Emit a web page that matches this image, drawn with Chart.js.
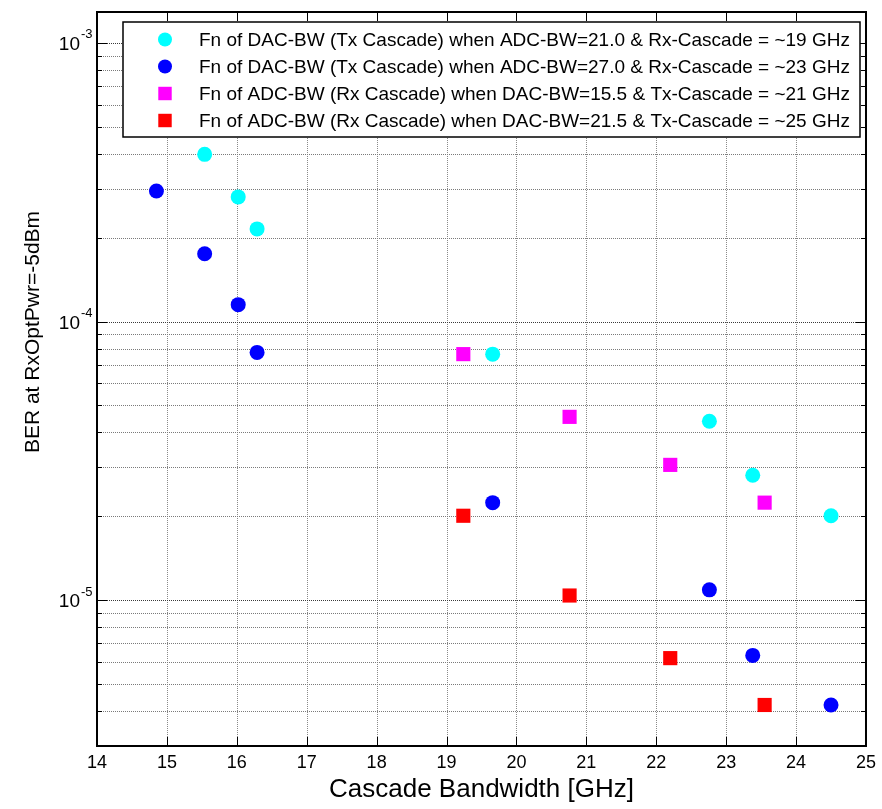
<!DOCTYPE html>
<html>
<head>
<meta charset="utf-8">
<title>BER vs cascade bandwidth</title>
<script src="https://cdn.jsdelivr.net/npm/chart.js@4.4.1/dist/chart.umd.min.js"></script>
<style>
  html, body { margin: 0; padding: 0; background: #fff; }
  #wrap { position: relative; width: 882px; height: 809px; }
</style>
</head>
<body>
<div id="wrap"><canvas id="berChart" width="882" height="809"></canvas></div>
<script>
const FONT = '"Liberation Sans", Arial, Helvetica, sans-serif';

// cascade bandwidth [GHz] and BER
const dacSweepAdc21X = [15.54, 16.02, 16.29, 19.66, 22.76, 23.38, 24.50];
const dacSweepAdc21Y = [3.98e-4, 2.80e-4, 2.15e-4, 7.64e-5, 4.39e-5, 2.81e-5, 2.01e-5];
const dacSweepAdc27X = [14.85, 15.54, 16.02, 16.29, 19.66, 22.76, 23.38, 24.50];
const dacSweepAdc27Y = [2.94e-4, 1.75e-4, 1.15e-4, 7.75e-5, 2.24e-5, 1.09e-5, 6.34e-6, 4.21e-6];
const adcSweepDac155X = [19.24, 20.76, 22.20, 23.55];
const adcSweepDac155Y = [7.64e-5, 4.55e-5, 3.06e-5, 2.24e-5];
const adcSweepDac215X = [19.24, 20.76, 22.20, 23.55];
const adcSweepDac215Y = [2.01e-5, 1.04e-5, 6.20e-6, 4.21e-6];

const seriesLabels = [
  "Fn of DAC-BW (Tx Cascade) when ADC-BW=21.0 & Rx-Cascade = ~19 GHz",
  "Fn of DAC-BW (Tx Cascade) when ADC-BW=27.0 & Rx-Cascade = ~23 GHz",
  "Fn of ADC-BW (Rx Cascade) when DAC-BW=15.5 & Tx-Cascade = ~21 GHz",
  "Fn of ADC-BW (Rx Cascade) when DAC-BW=21.5 & Tx-Cascade = ~25 GHz",
];

const xTicks = [14, 15, 16, 17, 18, 19, 20, 21, 22, 23, 24, 25];
const yMin = 3e-6, yMax = 1.29e-3;
const yDecades = [1e-6, 1e-5, 1e-4, 1e-3];
const yMantissas = [1, 2, 3, 4, 5, 6, 7, 8, 9];

const yTicks = [];
yDecades.forEach((d) => {
  yMantissas.forEach((m) => {
    const v = m * d;
    if (v >= yMin * 0.999 && v <= yMax) yTicks.push(v);
  });
});

function isDecade(v) {
  const l = Math.log10(v);
  return Math.abs(l - Math.round(l)) < 1e-6;
}

function toPoints(xs, ys) {
  return xs.map((x, i) => ({ x, y: ys[i] }));
}

const datasets = [
  { label: seriesLabels[0], data: toPoints(dacSweepAdc21X, dacSweepAdc21Y), backgroundColor: "#00ffff", pointStyle: "circle", pointRadius: 7.5 },
  { label: seriesLabels[1], data: toPoints(dacSweepAdc27X, dacSweepAdc27Y), backgroundColor: "#0000ff", pointStyle: "circle", pointRadius: 7.5 },
  { label: seriesLabels[2], data: toPoints(adcSweepDac155X, adcSweepDac155Y), backgroundColor: "#ff00ff", pointStyle: "rect", pointRadius: 10 },
  { label: seriesLabels[3], data: toPoints(adcSweepDac215X, adcSweepDac215Y), backgroundColor: "#ff0000", pointStyle: "rect", pointRadius: 10 },
].map((ds) => ({ ...ds, borderWidth: 0, pointBorderWidth: 0, pointHoverRadius: ds.pointRadius }));

function drawMarker(ctx, style, radius, x, y) {
  if (Chart.helpers && Chart.helpers.drawPoint) {
    Chart.helpers.drawPoint(ctx, { pointStyle: style, radius, borderWidth: 0, rotation: 0 }, x, y);
    return;
  }
  ctx.beginPath();
  if (style === "rect") {
    const s = radius * Math.SQRT1_2;
    ctx.rect(x - s, y - s, 2 * s, 2 * s);
  } else {
    ctx.arc(x, y, radius, 0, Math.PI * 2);
  }
  ctx.fill();
}

// dotted grid drawn on the library's tick pixels (vertical dotted lines get lost otherwise)
const dottedGrid = {
  id: "dottedGrid",
  beforeDatasetsDraw(chart) {
    const { ctx, chartArea: a, scales } = chart;
    ctx.save();
    ctx.lineWidth = 1;
    ctx.setLineDash([1, 1]);
    ctx.strokeStyle = "#8a8a8a";
    ctx.beginPath();
    scales.x.ticks.forEach((t) => {
      const px = Math.round(scales.x.getPixelForValue(t.value)) + 0.5;
      ctx.moveTo(px, a.top); ctx.lineTo(px, a.bottom);
    });
    ctx.stroke();
    scales.y.ticks.forEach((t) => {
      const py = Math.round(scales.y.getPixelForValue(t.value)) + 0.5;
      ctx.strokeStyle = isDecade(t.value) ? "#3a3a3a" : "#7a7a7a";
      ctx.beginPath();
      ctx.moveTo(a.left, py); ctx.lineTo(a.right, py);
      ctx.stroke();
    });
    ctx.restore();
  },
};

// MATLAB-like box, inward ticks, 10^n labels, y title and legend
const matlabFrame = {
  id: "matlabFrame",
  afterDraw(chart) {
    const { ctx, chartArea: a, scales } = chart;
    const xs = scales.x, ys = scales.y;
    ctx.save();

    // inward ticks
    ctx.strokeStyle = "#000";
    ctx.lineWidth = 1;
    ctx.beginPath();
    xs.ticks.forEach((t) => {
      const px = Math.round(xs.getPixelForValue(t.value)) + 0.5;
      ctx.moveTo(px, a.bottom); ctx.lineTo(px, a.bottom - 9);
      ctx.moveTo(px, a.top); ctx.lineTo(px, a.top + 9);
    });
    ys.ticks.forEach((t) => {
      const py = Math.round(ys.getPixelForValue(t.value)) + 0.5;
      const len = isDecade(t.value) ? 10 : 5;
      ctx.moveTo(a.left, py); ctx.lineTo(a.left + len, py);
      ctx.moveTo(a.right, py); ctx.lineTo(a.right - len, py);
    });
    ctx.stroke();

    // axes box
    ctx.lineWidth = 2;
    ctx.strokeRect(a.left, a.top, a.right - a.left, a.bottom - a.top);

    // y tick labels 10^n
    ctx.fillStyle = "#000";
    ys.ticks.forEach((t) => {
      if (!isDecade(t.value)) return;
      const py = ys.getPixelForValue(t.value);
      ctx.font = "19px " + FONT;
      ctx.textAlign = "right";
      ctx.textBaseline = "middle";
      ctx.fillText("10", a.left - 17, py + 2);
      ctx.font = "13px " + FONT;
      ctx.textAlign = "left";
      ctx.fillText(String(Math.round(Math.log10(t.value))), a.left - 16, py - 8);
    });

    // y axis title
    ctx.save();
    ctx.translate(33, 332);
    ctx.rotate(-Math.PI / 2);
    ctx.font = "21px " + FONT;
    ctx.textAlign = "center";
    ctx.textBaseline = "middle";
    ctx.fillText("BER at RxOptPwr=-5dBm", 0, 0);
    ctx.restore();

    // legend
    const lx = 123, ly = 22, lw = 737, lh = 115;
    ctx.fillStyle = "#fff";
    ctx.fillRect(lx, ly, lw, lh);
    ctx.strokeStyle = "#000";
    ctx.lineWidth = 1.5;
    ctx.strokeRect(lx, ly, lw, lh);
    chart.data.datasets.forEach((ds, i) => {
      const cy = ly + 17.5 + i * 27;
      ctx.fillStyle = ds.backgroundColor;
      drawMarker(ctx, ds.pointStyle, ds.pointStyle === "rect" ? 9.5 : 7, lx + 42, cy);
      ctx.fillStyle = "#000";
      ctx.font = "19px " + FONT;
      ctx.textAlign = "left";
      ctx.textBaseline = "middle";
      ctx.fillText(ds.label, lx + 76, cy + 1);
    });

    ctx.restore();
  },
};

new Chart(document.getElementById("berChart"), {
  type: "scatter",
  data: { datasets },
  options: {
    responsive: false,
    animation: false,
    layout: { padding: { top: 12, right: 15, left: 0, bottom: 0 } },
    plugins: { legend: { display: false }, tooltip: { enabled: false } },
    scales: {
      x: {
        type: "linear",
        min: 14,
        max: 25,
        afterBuildTicks: (s) => { s.ticks = xTicks.map((v) => ({ value: v })); },
        afterFit: (s) => { s.height = 63; },
        ticks: { color: "#000", font: { family: FONT, size: 18 }, padding: 6, maxRotation: 0, autoSkip: false },
        grid: { display: false, drawTicks: false },
        border: { display: false },
        title: { display: true, text: "Cascade Bandwidth [GHz]", color: "#000", font: { family: FONT, size: 26 }, padding: { top: 0, bottom: 4 } },
      },
      y: {
        type: "logarithmic",
        min: yMin,
        max: yMax,
        afterBuildTicks: (s) => { s.ticks = yTicks.map((v) => ({ value: v })); },
        afterFit: (s) => { s.width = 97; },
        ticks: { display: false },
        grid: { display: false, drawTicks: false },
        border: { display: false },
      },
    },
  },
  plugins: [dottedGrid, matlabFrame],
});
</script>
</body>
</html>
